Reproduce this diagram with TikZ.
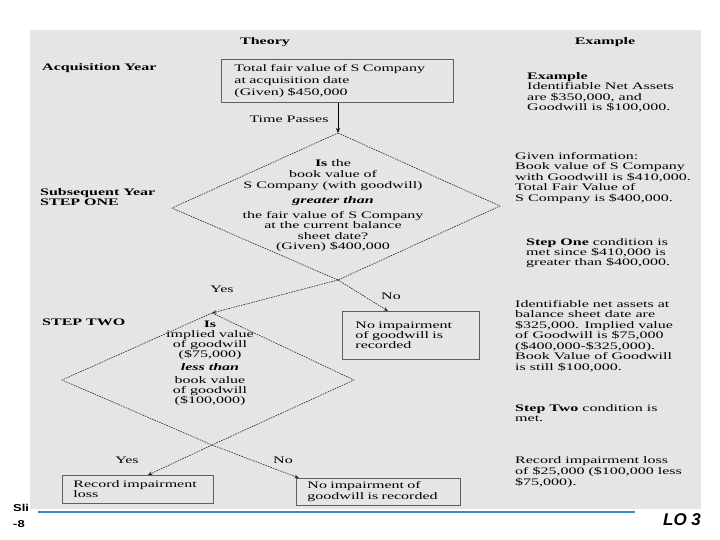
\documentclass[tikz,border=0pt]{standalone}
\usepackage{fontspec}
\setmainfont[FakeStretch=1.6]{Liberation Serif}
\newfontfamily\slfont[FakeStretch=1.3]{Liberation Sans}
\newfontfamily\lofont{Liberation Sans}
\usetikzlibrary{arrows.meta}
\definecolor{panel}{RGB}{229,229,229}
\definecolor{rulecol}{RGB}{60,140,190}
\definecolor{edgecol}{RGB}{95,95,95}
\begin{document}
\begin{tikzpicture}[x=1pt,y=-1pt,
  txt/.style={inner sep=0pt, font=\fontsize{10}{10.5}\selectfont, align=left, anchor=mid west},
  head/.style={inner sep=0pt, font=\fontsize{10}{10.5}\selectfont\bfseries, align=left},
  box/.style={draw=edgecol, line width=0.9pt, inner ysep=0pt, anchor=north west, align=left},
  dia/.style={draw=black!85, line width=0.6pt, dash pattern=on 1.6pt off 1pt},
  flow/.style={dia, -{Stealth[length=4.5pt,width=3.5pt]}},
  lab/.style={inner sep=0pt, font=\fontsize{10}{10.5}\selectfont}
]
\useasboundingbox (0,0) rectangle (720,540);
% slide footer (partly covered)
\node[inner sep=0pt, anchor=mid west, font=\slfont\bfseries\fontsize{10}{12}\selectfont] (sli) at (13,509) {Sli};
\node[inner sep=0pt, anchor=mid west, font=\slfont\bfseries\fontsize{10}{12}\selectfont] (eight) at (13,525) {-8};
% panel
\fill[panel] (30,30) rectangle (701,509);
\draw[rulecol, line width=1.2pt] (38,512) -- (635,512);
\node[inner sep=0pt, font=\lofont\bfseries\itshape\fontsize{17}{20}\selectfont] (lo) at (682,520) {LO 3};

% headers
\node[head, anchor=mid] (theory) at (265,42) {Theory};
\node[head, anchor=mid] (example) at (605,42) {Example};
\node[head, anchor=mid west] (acq) at (42,68) {Acquisition Year};
\node[head, anchor=mid west, font=\fontsize{10}{10}\selectfont\bfseries] (sub) at (40,203) {Subsequent Year\\STEP ONE};
\node[head, anchor=mid west] (two) at (42,323) {STEP TWO};

% box 1
\node[box, minimum width=232, minimum height=43, text width=206, inner xsep=13,
      font=\fontsize{10}{12}\selectfont] (b1) at (221,59)
      {Total fair value of S Company\\at acquisition date\\(Given) \$450,000};
\node[lab, anchor=mid] (tp) at (289,120) {Time Passes};

% diamond 1
\coordinate (d1t) at (338,133);
\coordinate (d1l) at (172,208);
\coordinate (d1r) at (500,206);
\coordinate (d1b) at (338,280);
\draw[dia] (d1t) -- (d1r) -- (d1b) -- (d1l) -- cycle;
\draw[line width=0.8pt, -{Stealth[length=5pt,width=4pt]}] (b1.south -| d1t) -- (d1t);
\node[inner sep=0pt, align=center, font=\fontsize{10}{10.6}\selectfont] (q1) at (333,206)
  {\textbf{Is} the\\book value of\\S Company (with goodwill)\\[4.4pt]
   \textbf{\textit{greater than}}\\[4.4pt]
   the fair value of S Company\\at the current balance\\sheet date?\\(Given) \$400,000};

% box 2
\node[box, minimum width=137, minimum height=48, text width=111, inner xsep=13,
      font=\fontsize{10}{10}\selectfont] (b2) at (342,311)
      {No impairment\\of goodwill is\\recorded};

% diamond 2
\coordinate (d2t) at (212,313);
\coordinate (d2l) at (62,380);
\coordinate (d2r) at (354,380);
\coordinate (d2b) at (212,445);
\draw[dia] (d2t) -- (d2r) -- (d2b) -- (d2l) -- cycle;
\node[inner sep=0pt, align=center, font=\fontsize{10}{9.8}\selectfont] (q2) at (210,363.5)
  {\textbf{Is}\\implied value\\of goodwill\\(\$75,000)\\[3.5pt]
   \textbf{\textit{less than}}\\[3.5pt]
   book value\\of goodwill\\(\$100,000)};

% arrows from diamond 1
\coordinate (n1) at (388,311);
\draw[flow] (d1b) -- (d2t);
\draw[flow] (d1b) -- (n1);
\node[lab, anchor=mid] (yes1) at (222,290) {Yes};
\node[lab, anchor=mid] (no1) at (391,297) {No};

% bottom boxes
\node[box, minimum width=151, minimum height=28, text width=129, inner xsep=11,
      font=\fontsize{10}{10}\selectfont] (b3) at (62,475)
      {Record impairment\\loss};
\node[box, minimum width=164, minimum height=27, text width=142, inner xsep=11,
      font=\fontsize{10}{11}\selectfont] (b4) at (296,478)
      {No impairment of\\goodwill is recorded};

% arrows from diamond 2
\coordinate (y2) at (148,475);
\coordinate (n2) at (299,478);
\draw[flow] (d2b) -- (y2);
\draw[flow] (d2b) -- (n2);
\node[lab, anchor=mid] (yes2) at (127,461) {Yes};
\node[lab, anchor=mid] (no2) at (283,461) {No};

% example column (anchor = last line)
\node[txt] (e1) at (527,108.5) {\textbf{Example}\\Identifiable Net Assets\\are \$350,000, and\\Goodwill is \$100,000.};
\node[txt] (e2) at (515,199) {Given information:\\Book value of S Company\\with Goodwill is \$410,000.\\Total Fair Value of\\S Company is \$400,000.};
\node[txt, font=\fontsize{10}{10}\selectfont] (e3) at (526,263) {\textbf{Step One} condition is\\met since \$410,000 is\\greater than \$400,000.};
\node[txt] (e4) at (515,368) {Identifiable net assets at\\balance sheet date are\\\$325,000. Implied value\\of Goodwill is \$75,000\\(\$400,000-\$325,000).\\Book Value of Goodwill\\is still \$100,000.};
\node[txt, font=\fontsize{10}{10}\selectfont] (e5) at (515,419) {\textbf{Step Two} condition is\\met.};
\node[txt, font=\fontsize{10}{11}\selectfont] (e6) at (515,483) {Record impairment loss\\of \$25,000 (\$100,000 less\\\$75,000).};
\end{tikzpicture}
\end{document}
